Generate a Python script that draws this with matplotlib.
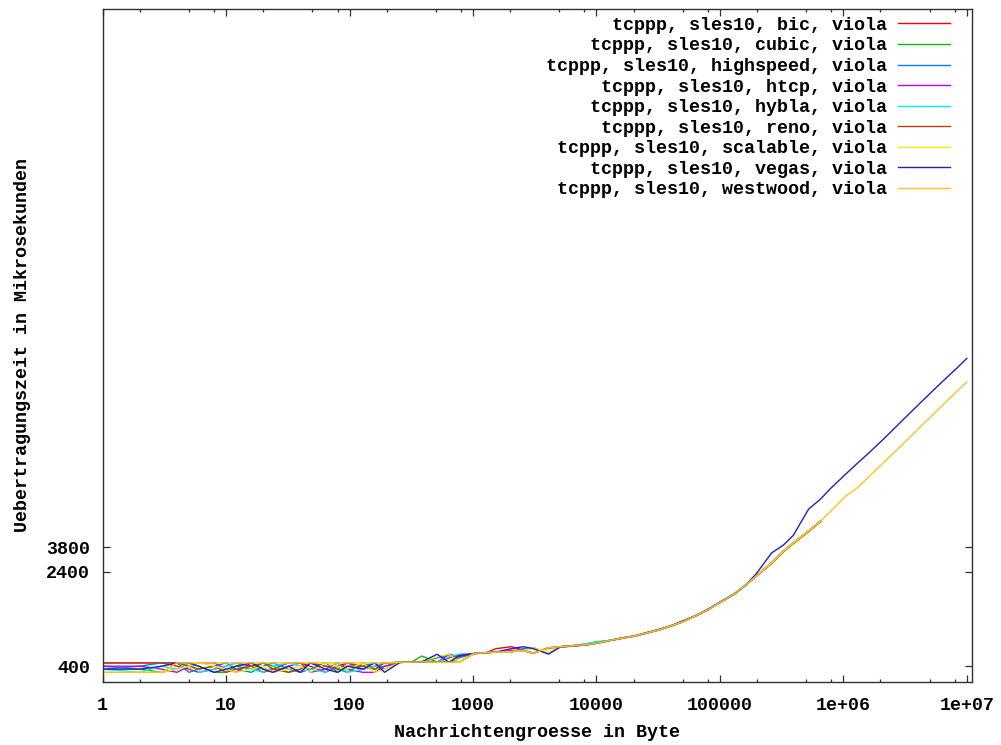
import matplotlib
matplotlib.use("Agg")
import matplotlib.pyplot as plt
from matplotlib.ticker import FixedLocator, FixedFormatter, NullLocator

# Message sizes in bytes (shared by all runs)
sizes = [1, 2, 3, 4, 5, 6, 8, 10, 12, 16, 20, 24, 32, 40, 48, 64, 80, 96, 128, 160, 192,
         256, 320, 384, 512, 640, 768, 1024, 1280, 1536, 2048, 2560, 3072, 4096, 5120, 6144, 8192,
         10240, 12288, 16384, 20480, 24576, 32768, 40960, 49152, 65536, 81920, 98304,
         131072, 163840, 196608, 262144, 327680, 393216, 524288, 655360]
# Additional large sizes measured only for vegas and westwood
tail_sizes = [786432, 1048576, 1310720, 1572864, 2097152, 2621440, 3145728,
              4194304, 5242880, 6291456, 8388608, 10000000]

# Transfer times in microseconds
bic = [428, 428, 428, 402, 380, 358, 380, 402, 428, 402, 358, 380, 428, 428, 402, 358, 402, 428, 380, 402, 428,
       432, 434, 440, 436, 470, 500, 510, 519, 560, 581, 545, 570, 513, 581, 588, 602,
       628, 650, 688, 715, 750, 808, 866, 925, 1062, 1190, 1325, 1580, 1880, 2220, 2840, 3560, 4140, 5200, 6270]
cubic = [402, 380, 358, 380, 428, 402, 358, 358, 402, 380, 428, 402, 358, 380, 428, 402, 380, 358, 428, 380, 402,
         432, 436, 487, 436, 433, 470, 510, 519, 525, 529, 540, 513, 570, 578, 590, 612,
         640, 648, 683, 714, 745, 800, 870, 930, 1058, 1183, 1330, 1575, 1886, 2210, 2835, 3545, 4120, 5175, 6250]
highspeed = [380, 402, 428, 428, 358, 380, 402, 428, 380, 358, 402, 428, 380, 358, 380, 428, 358, 402, 402, 428, 380,
             432, 434, 436, 470, 500, 433, 512, 519, 525, 529, 560, 570, 513, 581, 588, 605,
             625, 650, 686, 712, 748, 806, 868, 935, 1060, 1186, 1335, 1572, 1884, 2215, 2832, 3550, 4130, 5185, 6260]
htcp = [402, 402, 380, 358, 402, 428, 428, 380, 358, 428, 380, 358, 402, 428, 358, 380, 428, 380, 358, 358, 402,
        432, 434, 436, 433, 504, 480, 510, 519, 525, 540, 545, 513, 570, 581, 590, 600,
        623, 648, 690, 712, 747, 805, 872, 928, 1055, 1186, 1328, 1578, 1880, 2213, 2830, 3552, 4129, 5180, 6262]
hybla = [380, 358, 402, 380, 428, 358, 380, 402, 428, 380, 358, 402, 428, 402, 380, 358, 428, 358, 380, 402, 428,
         432, 434, 436, 433, 480, 504, 510, 522, 525, 529, 540, 570, 513, 581, 592, 615,
         638, 652, 685, 710, 747, 805, 868, 928, 1059, 1190, 1340, 1590, 1900, 2213, 2825, 3549, 4135, 5182, 6255]
reno = [428, 428, 428, 428, 402, 380, 402, 358, 380, 402, 428, 380, 358, 380, 428, 402, 380, 428, 402, 380, 428,
        432, 434, 436, 433, 433, 433, 510, 519, 525, 529, 540, 513, 568, 575, 585, 600,
        620, 645, 682, 708, 742, 800, 862, 922, 1052, 1178, 1320, 1565, 1870, 2190, 2790, 3500, 4070, 5110, 6180]
scalable = [358, 358, 358, 380, 402, 428, 402, 380, 358, 380, 402, 358, 380, 402, 358, 428, 402, 380, 428, 358, 380,
            432, 434, 436, 480, 504, 433, 510, 519, 525, 529, 540, 570, 520, 581, 590, 605,
            623, 648, 685, 712, 747, 805, 868, 928, 1059, 1186, 1328, 1574, 1884, 2213, 2830, 3549, 4129, 5182, 6259]
vegas = [380, 380, 402, 428, 428, 402, 358, 380, 402, 428, 380, 358, 402, 358, 428, 380, 358, 402, 380, 428, 358,
         432, 434, 436, 504, 433, 490, 512, 519, 525, 560, 581, 560, 505, 581, 590, 605,
         623, 648, 685, 712, 750, 810, 868, 940, 1059, 1195, 1335, 1574, 1884, 2300, 3418, 3976, 4767, 7853, 9490,
         11550, 15220, 18770, 22170, 29160, 36450, 43770, 58230, 72480, 86520, 113500, 135200]
westwood = [358, 358, 358, 428, 428, 428, 428, 428, 428, 428, 428, 428, 428, 428, 428, 428, 428, 428, 428, 428, 428,
            432, 434, 436, 433, 433, 433, 513, 519, 525, 529, 540, 513, 570, 581, 590, 605,
            623, 648, 685, 712, 747, 805, 868, 928, 1059, 1186, 1328, 1574, 1884, 2213, 2830, 3549, 4129, 5182, 6259,
            7489, 10040, 11790, 14100, 18700, 23250, 27750, 36990, 46080, 55230, 73110, 86700]

algorithms = ["bic", "cubic", "highspeed", "htcp", "hybla", "reno", "scalable", "vegas", "westwood"]
series = [bic, cubic, highspeed, htcp, hybla, reno, scalable, vegas, westwood]
colors = ["#ff0000", "#00c000", "#0080ff", "#c000ff", "#00eeee",
          "#c04000", "#eeee00", "#2020c0", "#ffc020"]

x_ticks = [1, 10, 100, 1000, 10000, 100000, 1000000, 10000000]
x_tick_labels = ["1", "10", "100", "1000", "10000", "100000", "1e+06", "1e+07"]
y_ticks = [400, 2400, 3800]
y_tick_labels = ["400", "2400", "3800"]

FONT = "Liberation Mono"
FS = 13.2
plt.rcParams["font.family"] = [FONT, "DejaVu Sans Mono"]
plt.rcParams["font.weight"] = "bold"
plt.rcParams["axes.labelweight"] = "bold"
plt.rcParams["font.size"] = FS

fig = plt.figure(figsize=(10.01, 7.45), dpi=100)
ax = fig.add_axes([0.1026, 0.0850, 0.8681, 0.9029])

all_sizes = sizes + tail_sizes
labels = [f"tcppp, sles10, {a}, viola" for a in algorithms]
width = max(len(l) for l in labels)
for name, ys, c, lab in zip(algorithms, series, colors, labels):
    ax.plot(all_sizes[:len(ys)], ys, color=c, lw=1.0, label=lab.rjust(width))

ax.set_xscale("log")
ax.set_yscale("log")
ax.set_xlim(1, 1.096e7)
ax.set_ylim(300, 1e8)

ax.xaxis.set_major_locator(FixedLocator(x_ticks))
ax.xaxis.set_major_formatter(FixedFormatter(x_tick_labels))
minor = [m * d for d in [1, 10, 100, 1000, 10000, 100000, 1000000] for m in (2, 5, 8)]
ax.xaxis.set_minor_locator(FixedLocator(minor))
ax.yaxis.set_major_locator(FixedLocator(y_ticks))
ax.yaxis.set_major_formatter(FixedFormatter(y_tick_labels))
ax.yaxis.set_minor_locator(NullLocator())

for s in ax.spines.values():
    s.set_linewidth(1.0)
    s.set_color("#303030")
ax.tick_params(which="both", direction="in", top=True, right=True, color="#303030", width=0.9)
ax.tick_params(which="major", length=4.8)
ax.tick_params(which="minor", length=2.4)
ax.tick_params(axis="x", which="major", pad=11)
ax.tick_params(axis="y", which="major", pad=9)

ax.set_xlabel("Nachrichtengroesse in Byte", fontweight="bold")
ax.set_ylabel("Uebertragungszeit in Mikrosekunden", fontweight="bold")
ax.xaxis.set_label_coords(0.5, -0.063)
ax.yaxis.set_label_coords(-0.082, 0.5)

ax.legend(loc="upper right", bbox_to_anchor=(0.975, 0.9884), frameon=False,
          markerfirst=False, borderaxespad=0, borderpad=0, labelspacing=0.195,
          handlelength=2.84, handletextpad=0.62,
          prop={"family": FONT, "weight": "bold", "size": FS})

fig.savefig("out.png", dpi=100)
